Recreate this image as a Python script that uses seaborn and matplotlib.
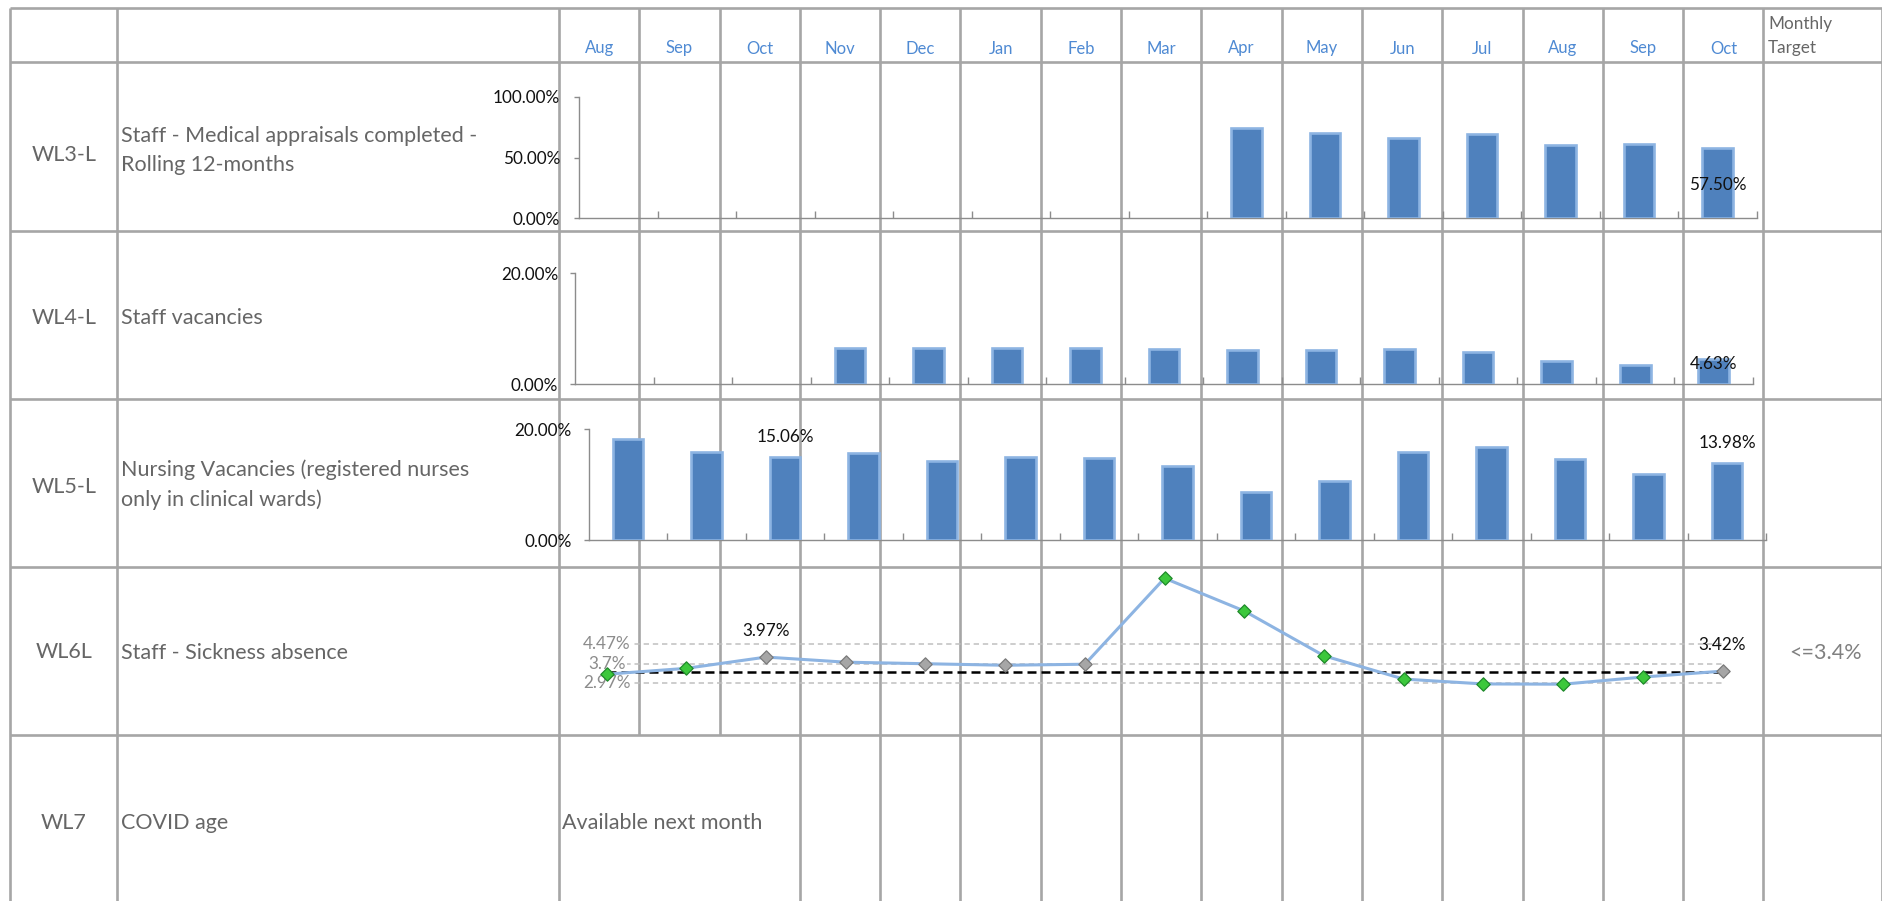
import numpy as np
import pandas as pd
import matplotlib
matplotlib.use("Agg")
import matplotlib.pyplot as plt
from matplotlib.ticker import FuncFormatter, FixedLocator
import seaborn as sns

# ---------------------------------------------------------------- data
months = ["Aug", "Sep", "Oct", "Nov", "Dec", "Jan", "Feb", "Mar",
          "Apr", "May", "Jun", "Jul", "Aug", "Sep", "Oct"]
row_codes = ["WL3-L", "WL4-L", "WL5-L", "WL6L", "WL7"]
row_titles = [
    ["Staff - Medical appraisals completed -", "Rolling 12-months"],
    ["Staff vacancies"],
    ["Nursing Vacancies (registered nurses", "only in clinical wards)"],
    ["Staff - Sickness absence"],
    ["COVID age"],
]
nan = np.nan
medical_appraisals = [nan, nan, nan, nan, nan, nan, nan, nan,
                      74.0, 70.5, 66.0, 69.5, 60.5, 61.0, 57.5]
staff_vacancies = [nan, nan, nan, 6.5, 6.6, 6.6, 6.5, 6.3,
                   6.1, 6.2, 6.3, 5.8, 4.25, 3.5, 4.63]
nursing_vacancies = [18.25, 15.86, 15.06, 15.78, 14.34, 15.06, 14.83, 13.33,
                     8.70, 10.74, 15.96, 16.87, 14.59, 11.89, 13.98]
sickness_absence = [3.30, 3.53, 3.97, 3.77, 3.71, 3.65, 3.69, 7.05,
                    5.77, 4.02, 3.11, 2.92, 2.91, 3.19, 3.42]
sickness_status = ["ok", "ok", "na", "na", "na", "na", "na", "ok",
                   "ok", "ok", "ok", "ok", "ok", "ok", "na"]
sickness_target = 3.4
sickness_upper = 4.47
sickness_mean = 3.7
sickness_lower = 2.97
target_label = "<=3.4%"
covid_note = "Available next month"

# ---------------------------------------------------------------- style
W, H = 1883, 901
GRID = "#a6a6a6"
TXT = "#666666"
MONTH_TXT = "#4f8ad3"
BAR_FILL = "#4f81bd"
BAR_EDGE = "#8db4e2"
AXIS = "#8c8c8c"
LINE = "#8db4e2"

sns.set_theme(style="white")
plt.rcParams["font.family"] = ["Lato", "DejaVu Sans"]

fig = plt.figure(figsize=(W / 100, H / 100), dpi=100)

# background layer in pixel units for the table grid and texts
bg = fig.add_axes([0, 0, 1, 1])
bg.set_xlim(0, W)
bg.set_ylim(H, 0)
bg.axis("off")

row_edges = [8, 62.3, 230.5, 398.5, 566.5, 735]
col_edges = 559 + 80.3 * np.arange(16)
x_left, x_code, x_right = 10, 117.5, 1882

bg.hlines(row_edges, x_left, x_right, color=GRID, lw=1.9)
full_height = [x_left, x_code, x_right, col_edges[0]] + list(col_edges[3:])
bg.vlines(full_height, row_edges[0], H, color=GRID, lw=1.9)
# the note in the last row spans the first three month columns
bg.vlines(col_edges[1:3], row_edges[0], row_edges[-1], color=GRID, lw=1.9)

# header
col_centres = (col_edges[:-1] + col_edges[1:]) / 2
for xc, m in zip(col_centres, months):
    bg.text(xc, 48.5, m, ha="center", va="center", color=MONTH_TXT, fontsize=12)
bg.text(1768, 23.5, "Monthly", ha="left", va="center", color=TXT, fontsize=12.3)
bg.text(1768, 48.5, "Target", ha="left", va="center", color=TXT, fontsize=12.3)

# row codes and titles
code_y = [155, 318, 487, 652, 823]
title_y = [[136.5, 165], [317.5], [469.5, 500], [653], [823]]
for code, cy, lines, ty in zip(row_codes, code_y, row_titles, title_y):
    bg.text((x_left + x_code) / 2, cy, code, ha="center", va="center",
            color=TXT, fontsize=15.5)
    for line, y in zip(lines, ty):
        bg.text(121.5, y, line, ha="left", va="center", color=TXT, fontsize=15.5)

bg.text(1826, 653, target_label, ha="center", va="center", color="#808080", fontsize=15.5)
bg.text(562, 823, covid_note, ha="left", va="center", color=TXT, fontsize=15.5)


def add_panel(left, right, top, bottom):
    ax = fig.add_axes([left / W, 1 - bottom / H, (right - left) / W, (bottom - top) / H])
    ax.patch.set_alpha(0)
    return ax


pct = FuncFormatter(lambda v, _: f"{v:.2f}%")
n = len(months)


def bar_panel(ax, values, ymax, yticks, pad):
    df = pd.DataFrame({"slot": np.arange(n), "value": values})
    sns.barplot(data=df, x="slot", y="value", order=list(range(n)),
                color=BAR_FILL, saturation=1, edgecolor=BAR_EDGE,
                linewidth=1.9, width=0.39, errorbar=None, ax=ax, zorder=3)
    ax.set_xlim(-0.5, n - 0.5)
    ax.set_ylim(0, ymax)
    ax.set_xlabel("")
    ax.set_ylabel("")
    for s in ("top", "right"):
        ax.spines[s].set_visible(False)
    for s in ("left", "bottom"):
        ax.spines[s].set_color(AXIS)
        ax.spines[s].set_linewidth(1.0)
        ax.spines[s].set_zorder(2)
    ax.set_yticks(yticks)
    ax.yaxis.set_major_formatter(pct)
    ax.tick_params(axis="y", direction="out", length=3.6, width=1.0,
                   color=AXIS, pad=pad, labelsize=12.3, labelcolor="#111111", left=True)
    ax.set_xticks([])
    ax.xaxis.set_minor_locator(FixedLocator(np.arange(n) + 0.5))
    ax.tick_params(axis="x", which="minor", direction="in", length=5,
                   width=1.0, color=AXIS, bottom=True)
    return df


# WL3 - medical appraisals
ax3 = add_panel(579, 1756.8, 96.7, 218.3)
bar_panel(ax3, medical_appraisals, 100, [0, 50, 100], 10)
ax3.text(n - 1, 27.4, f"{medical_appraisals[-1]:.2f}%", ha="center", va="center",
         fontsize=12.3, color="#111111", zorder=5)

# WL4 - staff vacancies
ax4 = add_panel(575, 1753, 273.3, 384.3)
bar_panel(ax4, staff_vacancies, 20, [0, 20], 8.5)
ax4.text(n - 1, 3.66, f"{staff_vacancies[-1]:.2f}%", ha="center", va="center",
         fontsize=12.3, color="#111111", zorder=5)

# WL5 - nursing vacancies
ax5 = add_panel(588.9, 1766.4, 429.3, 540.3)
bar_panel(ax5, nursing_vacancies, 20, [0, 20], 9)
for i in (2, n - 1):
    ax5.annotate(f"{nursing_vacancies[i]:.2f}%", (i, nursing_vacancies[i]),
                 xytext=(0, 14.5), textcoords="offset points", ha="center",
                 va="center", fontsize=12.3, color="#111111", zorder=5)

# WL6 - sickness absence
ax6 = add_panel(566.75, 1762.4, 566.7, 707.5)
ax6.set_xlim(-0.5, n - 0.5)
ax6.set_ylim(2.0, 7.5)
ax6.axis("off")
for lvl in (sickness_upper, sickness_mean, sickness_lower):
    ax6.hlines(lvl, 0, n - 1, color="#c0c0c0", lw=1.1, linestyles=(0, (3.5, 2.5)), zorder=1)
    ax6.text(0, lvl, f"{lvl:g}%", ha="center", va="center", color="#8c8c8c",
             fontsize=12.3, zorder=2,
             bbox=dict(boxstyle="square,pad=0.08", fc="white", ec="none"))
ax6.hlines(sickness_target, 0, n - 1, color="black", lw=1.8,
           linestyles=(0, (3.6, 2.0)), zorder=3)
df6 = pd.DataFrame({"slot": np.arange(n), "value": sickness_absence,
                    "status": sickness_status})
sns.lineplot(data=df6, x="slot", y="value", color=LINE, lw=2.2, ax=ax6, zorder=4)
sns.scatterplot(data=df6[df6.status == "ok"], x="slot", y="value", marker="D",
                s=46, color="#3cc83c", edgecolor="#1f8a2a", linewidth=0.9,
                ax=ax6, zorder=5)
sns.scatterplot(data=df6[df6.status == "na"], x="slot", y="value", marker="D",
                s=46, color="#a6a6a6", edgecolor="#7a7a7a", linewidth=0.9,
                ax=ax6, zorder=5)
for i in (2, n - 1):
    ax6.annotate(f"{sickness_absence[i]:.2f}%", (i, sickness_absence[i]),
                 xytext=(0, 18.7), textcoords="offset points", ha="center",
                 va="center", fontsize=12.3, color="#111111", zorder=6)
ax6.set_xlabel("")
ax6.set_ylabel("")

fig.savefig("out.png", dpi=100)
